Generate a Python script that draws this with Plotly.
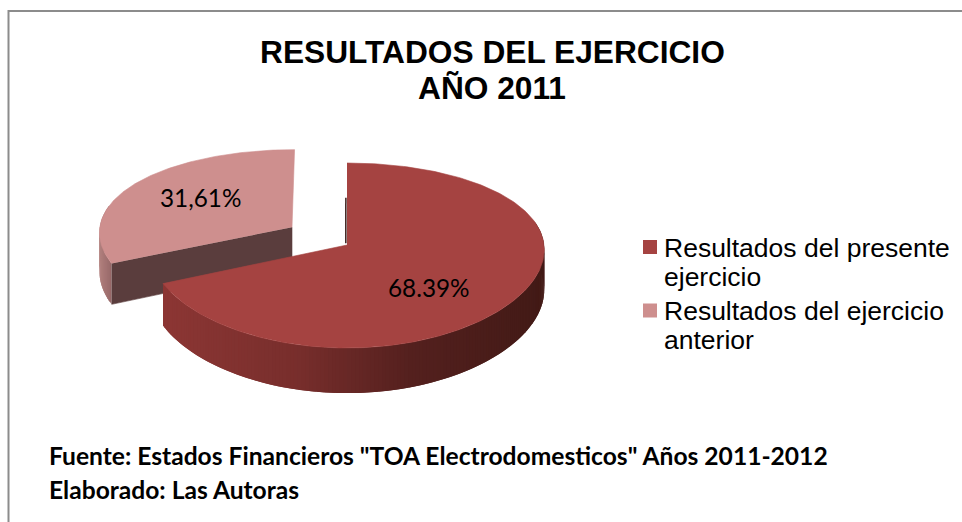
import numpy as np
import plotly.graph_objects as go

# ---- data ----
categories = [["Resultados del presente", "ejercicio"], ["Resultados del ejercicio", "anterior"]]
values = [68.39, 31.61]
value_labels = ["68.39%", "31,61%"]
title_lines = ["RESULTADOS DEL EJERCICIO", "AÑO 2011"]
source_lines = ['Fuente: Estados Financieros "TOA Electrodomesticos" Años 2011-2012',
                "Elaborado: Las Autoras"]

# ---- style ----
TOP = ["#A54341", "#CE8F8E"]
SIDE_STOPS = [[(0.0, (140, 54, 52)), (0.35, (120, 46, 44)), (0.65, (84, 32, 30)), (1.0, (66, 26, 22))],
              [(0.0, (178, 128, 126)), (1.0, (150, 104, 104))]]
CUT = "#5A3D3D"
CX, CY, A, B, K, KX, DEPTH = 347, 245, 197, 91.3, 0.1135, 0.05, 40
PULL = (-0.282, -0.2)
PULL_R = 0.985


def project(u, v, drop=0.0):
    u, v = np.asarray(u), np.asarray(v)
    return CX + A * u / (1 - KX * v), CY + (B * v + drop) / (1 - K * v)


def arc(a0, a1, n, off=(0, 0), r=1.0):
    t = np.radians(np.linspace(a0, a1, n))
    return r * np.sin(t) + off[0], -r * np.cos(t) + off[1]


def poly(x, y, color, width=0.6):
    return go.Scatter(x=list(x), y=list(y), mode="lines", fill="toself", fillcolor=color,
                      line=dict(color=color, width=width), showlegend=False, hoverinfo="skip")


def ramp(stops, f):
    for (f0, c0), (f1, c1) in zip(stops, stops[1:]):
        if f <= f1:
            w = (f - f0) / (f1 - f0)
            return "rgb(%d,%d,%d)" % tuple(round(a + (b - a) * w) for a, b in zip(c0, c1))
    return "rgb(%d,%d,%d)" % stops[-1][1]


def wall(a0, a1, stops, off=(0, 0), n=90, r=1.0):
    """Outer wall of a wedge, as overlapping quads shaded across screen x."""
    us, vs = arc(a0, a1, n + 1, off, r)
    xt, yt = project(us, vs)
    xb, yb = project(us, vs, DEPTH)
    lo, hi = xt.min(), xt.max()
    out = []
    for i in range(n):
        j = min(i + 2, n)
        f = ((xt[i] + xt[i + 1]) / 2 - lo) / (hi - lo)
        out.append(poly([xt[i], xt[j], xb[j], xb[i]], [yt[i], yt[j], yb[j], yb[i]], ramp(stops, f), 0))
    return out


sweep_main = 360 * values[0] / sum(values)
traces = []

# second slice (pulled out)
u0, v0 = arc(sweep_main, 360, 120, PULL, PULL_R)
xa, ya = project(PULL[0], PULL[1])
traces += wall(sweep_main, 285, SIDE_STOPS[1], PULL, 30, PULL_R)
xc0, yc0 = project(u0[0], v0[0])
xc0b, yc0b = project(u0[0], v0[0], DEPTH)
xab, yab = project(PULL[0], PULL[1], DEPTH)
traces.append(poly([xc0, xa, xab, xc0b], [yc0, ya, yab, yc0b], CUT))
xt, yt = project(u0, v0)
traces.append(poly(list(xt) + [xa], list(yt) + [ya], TOP[1]))

# main slice
traces += wall(75, sweep_main, SIDE_STOPS[0], (0, 0), 160)
u1, v1 = arc(0, sweep_main, 240)
xt, yt = project(u1, v1)
ax0, ay0 = project(0, 0)
traces.append(poly(list(xt) + [ax0], list(yt) + [ay0], TOP[0]))
# sliver of the cut face at twelve o'clock
xs, ys = project([-0.006, -0.006], [-0.55, -0.02])
traces.append(go.Scatter(x=xs, y=ys, mode="lines", line=dict(color="#3a1f1c", width=1.5),
                         showlegend=False, hoverinfo="skip"))

ann = []
for i, line in enumerate(title_lines):
    ann.append(dict(x=492, y=52 + 36 * i, text="<b>%s</b>" % line, showarrow=False,
                    font=dict(family="Liberation Sans", size=31.7, color="#000")))
for (x, y), t in zip([(429, 287), (200, 197)], value_labels):
    ann.append(dict(x=x, y=y, text=t, showarrow=False, font=dict(family="Lato", size=24.3, color="#000")))
for i, line in enumerate(source_lines):
    ann.append(dict(x=47, y=455 + 34 * i, text="<b>%s</b>" % line, showarrow=False, xanchor="left",
                    font=dict(family="Lato", size=24.6, color="#000")))

shapes = [dict(type="rect", xref="paper", yref="paper", x0=8.5 / 962, x1=1.1, y0=-0.1, y1=1 - 11 / 522,
               line=dict(color="#8c8c8c", width=2), layer="below")]
for k, (lines, color) in enumerate(zip(categories, TOP)):
    y0 = 247 + 63.5 * k
    shapes.append(dict(type="rect", x0=643, x1=657, y0=y0 - 7, y1=y0 + 7, fillcolor=color, line=dict(width=0)))
    for i, line in enumerate(lines):
        ann.append(dict(x=661.5, y=y0 + 0.5 + 29 * i, text=line, showarrow=False, xanchor="left",
                        font=dict(family="Liberation Sans", size=26.5, color="#000")))

fig = go.Figure(traces)
fig.update_layout(
    width=962, height=522, margin=dict(l=0, r=0, t=0, b=0), showlegend=False,
    paper_bgcolor="#fff", plot_bgcolor="#fff",
    xaxis=dict(range=[0, 962], visible=False, fixedrange=True),
    yaxis=dict(range=[522, 0], visible=False, fixedrange=True),
    annotations=ann, shapes=shapes,
)
fig.write_html("out.html", config=dict(displayModeBar=False),
               post_script="document.body.style.margin='0';document.body.style.overflow='hidden';")
